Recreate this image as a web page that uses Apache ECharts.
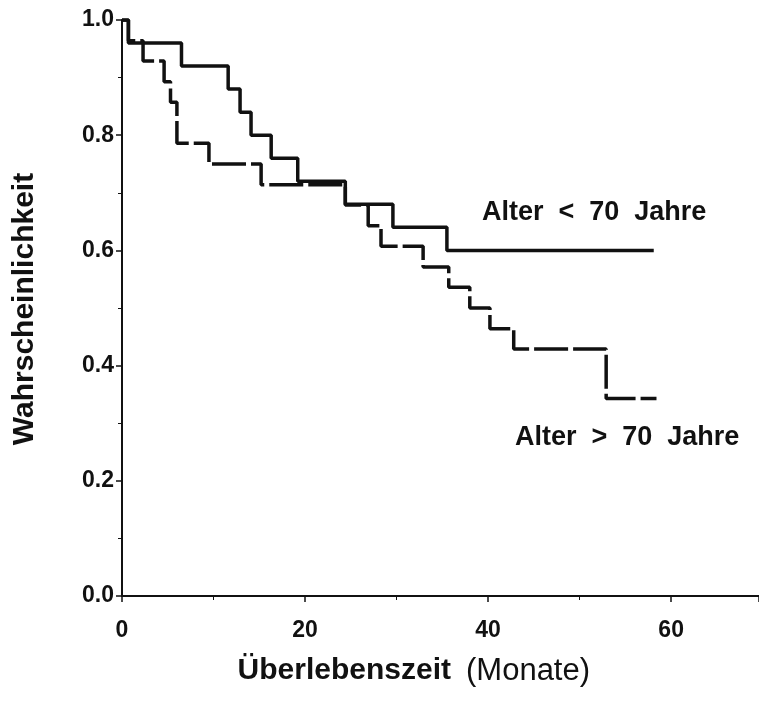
<!DOCTYPE html>
<html>
<head>
<meta charset="utf-8">
<script src="https://cdn.jsdelivr.net/npm/echarts@6/dist/echarts.min.js"></script>
<style>
html,body{margin:0;padding:0;background:#fff;}
#chart{width:759px;height:702px;}
</style>
</head>
<body>
<div id="chart"></div>
<script>
// Kaplan-Meier step data (months, survival probability)
const monthsYoung = [0, 0.7, 6.5, 11.6, 12.9, 14.1, 16.3, 19.2, 24.4, 29.6, 35.5, 58.1];
const survYoung   = [1.0, 0.96, 0.92, 0.88, 0.84, 0.80, 0.76, 0.72, 0.68, 0.64, 0.60, 0.60];
const monthsOld = [0, 0.7, 2.3, 4.6, 5.3, 6.0, 9.5, 15.2, 24.4, 26.9, 28.3, 32.9, 35.7, 38.0, 40.2, 42.8, 52.9, 58.4];
const survOld   = [1.0, 0.964, 0.929, 0.893, 0.857, 0.786, 0.75, 0.714, 0.679, 0.643, 0.607, 0.571, 0.536, 0.5, 0.464, 0.429, 0.343, 0.343];
const labelYoung = 'Alter  <  70  Jahre';
const labelOld = 'Alter  >  70  Jahre';
const xTitleBold = 'Überlebenszeit';
const xTitleRest = '(Monate)';
const yTitle = 'Wahrscheinlichkeit';

const zip = (xs, ys) => xs.map((x, i) => [x, ys[i]]);
const FONT = '"Liberation Sans", Arial, sans-serif';

const chart = echarts.init(document.getElementById('chart'), null, {renderer: 'canvas'});
chart.setOption({
  animation: false,
  backgroundColor: '#fff',
  grid: {left: 122, right: 0, top: 20, bottom: 106, containLabel: false},
  xAxis: {
    type: 'value', min: 0, max: 69.6, interval: 20,
    axisLine: {show: true, lineStyle: {color: '#111', width: 2}},
    axisTick: {show: true, length: 6, lineStyle: {color: '#111', width: 1.5}},
    minorTick: {show: true, splitNumber: 2, length: 4, lineStyle: {color: '#111', width: 1}},
    splitLine: {show: false},
    axisLabel: {showMaxLabel: false, color: '#111', fontFamily: FONT, fontWeight: 'bold', fontSize: 23, margin: 23}
  },
  yAxis: {
    type: 'value', min: 0, max: 1, interval: 0.2,
    axisLine: {show: true, lineStyle: {color: '#111', width: 2}},
    axisTick: {show: true, length: 6, lineStyle: {color: '#111', width: 1.5}},
    minorTick: {show: true, splitNumber: 2, length: 4, lineStyle: {color: '#111', width: 1}},
    splitLine: {show: false},
    axisLabel: {color: '#111', fontFamily: FONT, fontWeight: 'bold', fontSize: 23, margin: 8,
      formatter: v => v.toFixed(1)}
  },
  series: [
    {
      type: 'line', step: 'end', showSymbol: false, symbol: 'none',
      data: zip(monthsYoung, survYoung),
      lineStyle: {color: '#111', width: 3.5, type: 'solid'}, z: 3
    },
    {
      type: 'line', step: 'end', showSymbol: false, symbol: 'none',
      data: zip(monthsOld, survOld),
      lineStyle: {color: '#111', width: 3.5, type: [34, 5]}, z: 2
    }
  ],
  graphic: [
    {type: 'text', x: 482, y: 213, style: {text: labelYoung, font: 'bold 27px ' + FONT, fill: '#111', textVerticalAlign: 'middle'}},
    {type: 'text', x: 515, y: 438, style: {text: labelOld, font: 'bold 27px ' + FONT, fill: '#111', textVerticalAlign: 'middle'}},
    {type: 'text', x: 451, y: 671, style: {text: xTitleBold, font: 'bold 30px ' + FONT, fill: '#111', textAlign: 'right', textVerticalAlign: 'middle'}},
    {type: 'text', x: 466, y: 671, style: {text: xTitleRest, font: 'normal 31px ' + FONT, fill: '#111', textAlign: 'left', textVerticalAlign: 'middle'}},
    {type: 'text', x: 25, y: 309, rotation: Math.PI / 2, style: {text: yTitle, font: 'bold 30px ' + FONT, fill: '#111', textAlign: 'center', textVerticalAlign: 'middle'}}
  ]
});
</script>
</body>
</html>
